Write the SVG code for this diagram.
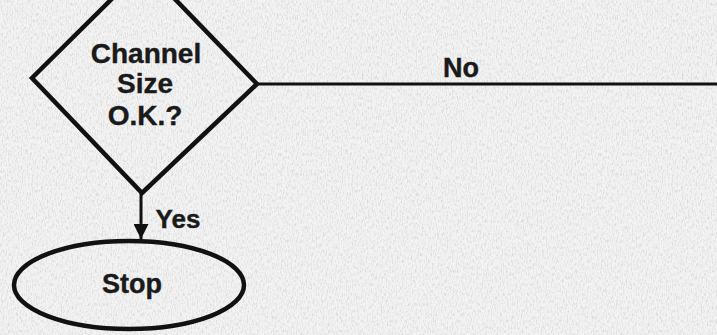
<svg xmlns="http://www.w3.org/2000/svg" width="717" height="335" viewBox="0 0 717 335">
<style>
.shape{fill:none;stroke:#111;stroke-width:4.5;stroke-linejoin:miter}
.conn{fill:none;stroke:#111;stroke-width:3}
.lbl{font-family:"Liberation Sans",Arial,sans-serif;font-weight:bold;fill:#1a1a1a;stroke:#1a1a1a;stroke-width:0.4}
</style>
<defs>
<filter id="paper" x="0" y="0" width="100%" height="100%">
<feTurbulence type="fractalNoise" baseFrequency="0.8 0.3" numOctaves="3" seed="4" result="n"/>
<feColorMatrix type="matrix" values="0 0 0 0 0.5  0 0 0 0 0.5  0 0 0 0 0.5  0 0 0 -2.6 1.45" in="n"/>
</filter>
<marker id="arr" viewBox="0 0 10 10" refX="10" refY="5" markerWidth="5" markerHeight="5" orient="auto" markerUnits="strokeWidth">
<path d="M0,0 L10,5 L0,10 z" fill="#111"/>
</marker>
</defs>
<rect width="717" height="335" fill="#f3f3f3"/>
<rect width="717" height="335" filter="url(#paper)" opacity="0.45"/>
<g id="connectors">
<line class="conn" x1="257" y1="84" x2="717" y2="84"/>
<text class="lbl" x="461" y="77" font-size="27" text-anchor="middle">No</text>
<line class="conn" x1="141" y1="193" x2="141" y2="239" marker-end="url(#arr)"/>
<text class="lbl" x="178" y="228" font-size="26" text-anchor="middle">Yes</text>
</g>
<g id="decision">
<polygon class="shape" points="144,-33 257,84 142,193 32,78"/>
<text class="lbl" font-size="28" text-anchor="middle"><tspan x="146" y="63">Channel</tspan><tspan x="145" y="93">Size</tspan><tspan x="145" y="125">O.K.?</tspan></text>
</g>
<g id="stop">
<ellipse class="shape" cx="129" cy="285" rx="115" ry="44"/>
<text class="lbl" x="132" y="293" font-size="27" text-anchor="middle">Stop</text>
</g>
</svg>
